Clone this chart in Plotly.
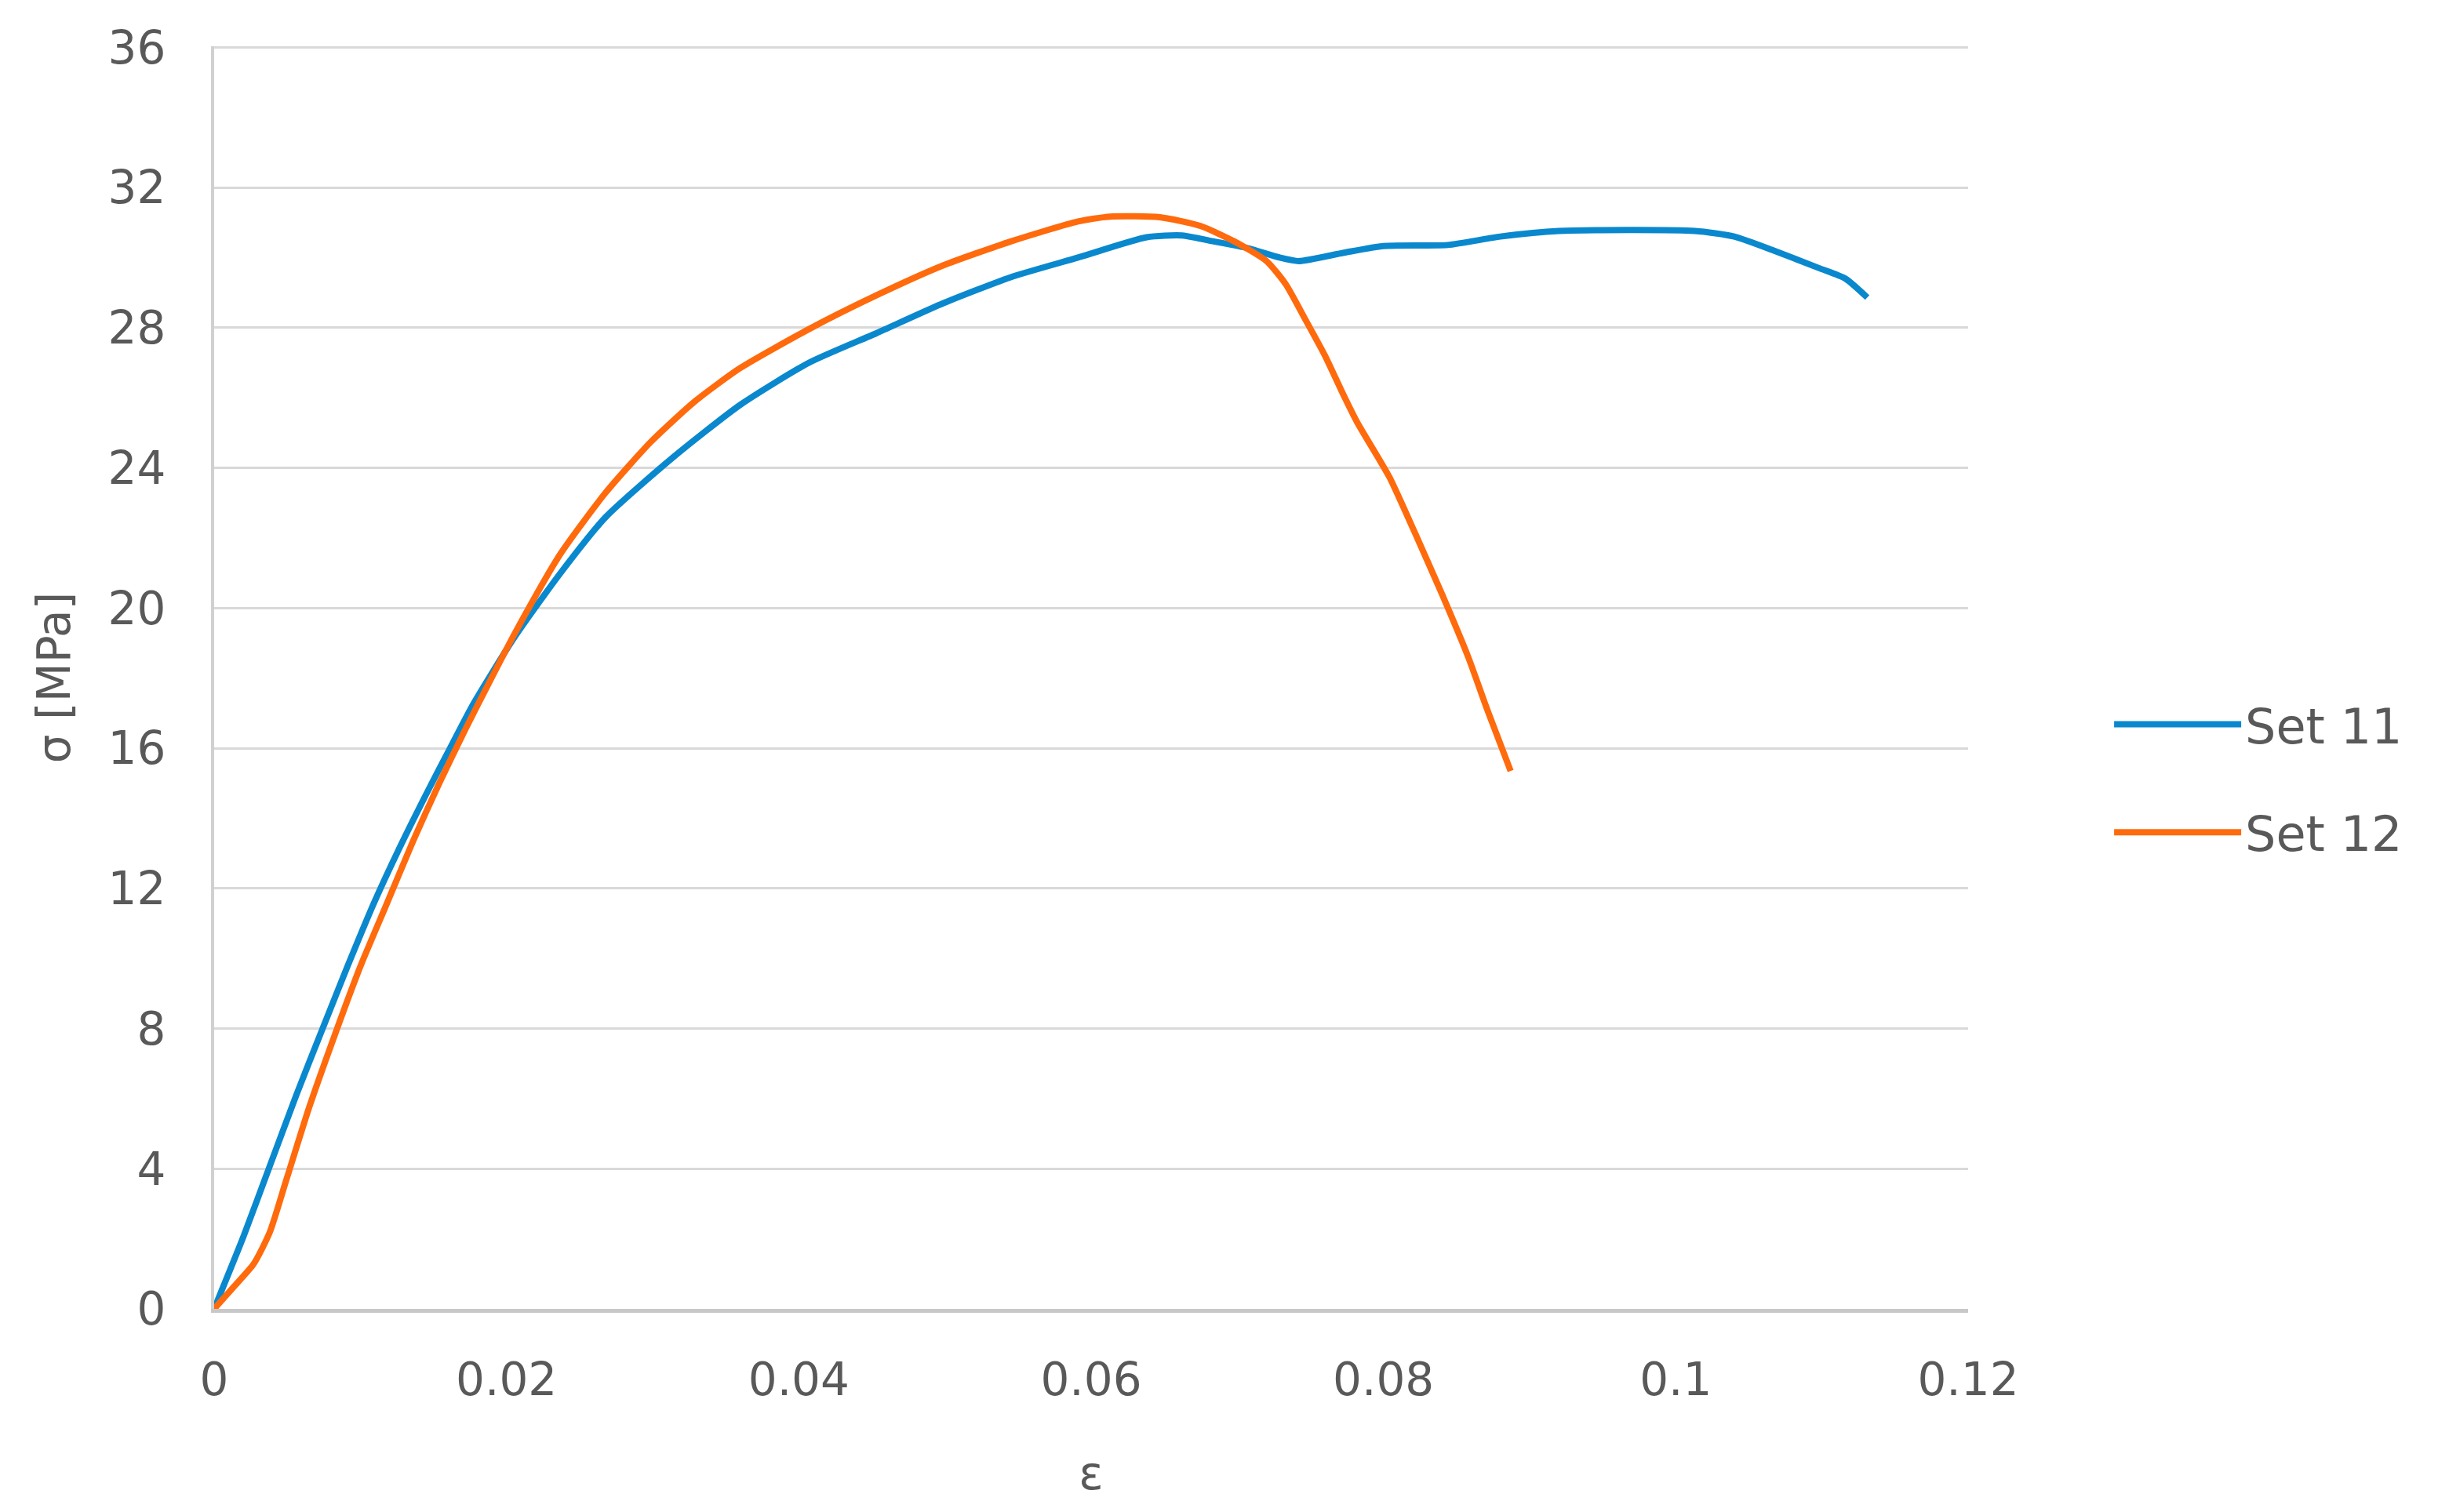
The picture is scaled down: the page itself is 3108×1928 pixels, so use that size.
import plotly.graph_objects as go

# ---- data ----
set11_strain = [0.0, 0.0020, 0.0038, 0.0056, 0.0074, 0.0091, 0.0109, 0.0127, 0.0145,
                0.0163, 0.0177, 0.0206, 0.0237, 0.0268, 0.0314, 0.0360, 0.0407, 0.0453,
                0.0499, 0.0545, 0.0591, 0.0638, 0.0662, 0.0684, 0.0707, 0.0729, 0.0742,
                0.0773, 0.0800, 0.0844, 0.0880, 0.0920, 0.1013, 0.1040, 0.1067, 0.1098,
                0.1116, 0.1131]
set11_stress = [0.0, 2.06, 4.07, 6.08, 7.98, 9.75, 11.55, 13.17, 14.68,
                16.13, 17.24, 19.2, 21.0, 22.6, 24.3, 25.8, 27.0, 27.84,
                28.7, 29.44, 30.0, 30.58, 30.63, 30.46, 30.27, 30.0, 29.9,
                30.14, 30.33, 30.36, 30.6, 30.76, 30.76, 30.6, 30.2, 29.7,
                29.4, 28.86]

set12_strain = [0.0, 0.0013, 0.0027, 0.0038, 0.0049, 0.0065, 0.0083, 0.0100, 0.0118,
                0.0136, 0.0154, 0.0172, 0.0186, 0.0206, 0.0237, 0.0268, 0.0299, 0.0329,
                0.0360, 0.0407, 0.0453, 0.0499, 0.0545, 0.0591, 0.0613, 0.0647, 0.0675,
                0.0698, 0.0720, 0.0733, 0.0747, 0.0760, 0.0773, 0.0782, 0.0804, 0.0822,
                0.0840, 0.0858, 0.0871, 0.0887]
set12_stress = [0.0, 0.61, 1.28, 2.18, 3.63, 5.75, 7.87, 9.77, 11.55,
                13.34, 15.0, 16.55, 17.7, 19.3, 21.55, 23.3, 24.75, 25.9,
                26.85, 27.96, 28.92, 29.78, 30.46, 31.03, 31.17, 31.15, 30.9,
                30.46, 29.9, 29.25, 28.2, 27.2, 26.05, 25.3, 23.74, 22.1,
                20.4, 18.6, 17.1, 15.35]

series_names = ["Set 11", "Set 12"]
series_colors = ["#0A88CE", "#FF6A0D"]

x_tickvals = [0, 0.02, 0.04, 0.06, 0.08, 0.1, 0.12]
x_ticktext = ["0", "0.02", "0.04", "0.06", "0.08", "0.1", "0.12"]
y_tickvals = [0, 4, 8, 12, 16, 20, 24, 28, 32, 36]
y_ticktext = ["0", "4", "8", "12", "16", "20", "24", "28", "32", "36"]

FONT = "'DejaVu Sans', Verdana, sans-serif"
TXT = "#595959"

fig = go.Figure()
for i, (xs, ys) in enumerate([(set11_strain, set11_stress), (set12_strain, set12_stress)]):
    fig.add_trace(go.Scatter(
        x=xs, y=ys, mode="lines", name=series_names[i],
        line=dict(color=series_colors[i], width=8, shape="spline", smoothing=0.6),
        legendgroup=series_names[i],
    ))

fig.update_layout(
    width=3092, height=1912,
    margin=dict(l=265, r=591, t=51, b=251),
    paper_bgcolor="white", plot_bgcolor="white",
    font=dict(family=FONT, size=58, color=TXT),
    legend=dict(
        x=1.081, y=0.42, xanchor="left", yanchor="middle",
        font=dict(family=FONT, size=62, color=TXT),
        itemwidth=162, tracegroupgap=54,
        bgcolor="rgba(0,0,0,0)",
    ),
    xaxis=dict(
        range=[0, 0.12], tickvals=x_tickvals, ticktext=x_ticktext,
        showgrid=False, zeroline=False,
        showline=True, linecolor="#C8C8C8", linewidth=5,
        ticks="", ticklabelstandoff=35,
        tickfont=dict(family=FONT, size=58, color=TXT),
        title=dict(text="ε", font=dict(family=FONT, size=58, color=TXT), standoff=68),
    ),
    yaxis=dict(
        range=[0, 36.03], tickvals=y_tickvals, ticktext=y_ticktext,
        showgrid=True, gridcolor="#D9D9D9", gridwidth=3,
        zeroline=False,
        showline=True, linecolor="#D0D0D0", linewidth=4,
        ticks="", ticklabelstandoff=46,
        tickfont=dict(family=FONT, size=58, color=TXT),
        title=dict(text="σ [MPa]", font=dict(family=FONT, size=58, color=TXT), standoff=30),
    ),
)

fig.write_html("out.html")
